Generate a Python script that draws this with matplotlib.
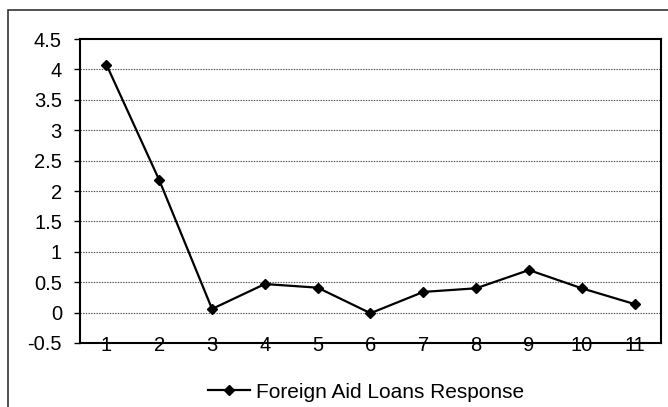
import matplotlib
matplotlib.use("Agg")
import matplotlib.pyplot as plt
from matplotlib.patches import Rectangle
from matplotlib.lines import Line2D

categories = ["1", "2", "3", "4", "5", "6", "7", "8", "9", "10", "11"]
values = [4.08, 2.18, 0.06, 0.47, 0.41, -0.01, 0.34, 0.40, 0.70, 0.40, 0.14]
y_ticks = [-0.5, 0, 0.5, 1, 1.5, 2, 2.5, 3, 3.5, 4, 4.5]
y_tick_labels = ["-0.5", "0", "0.5", "1", "1.5", "2", "2.5", "3", "3.5", "4", "4.5"]
series_name = "Foreign Aid Loans Response"

plt.rcParams['font.family'] = ['Liberation Sans', 'DejaVu Sans']

W, H = 668, 407
fig = plt.figure(figsize=(W / 100, H / 100), dpi=100)
fig.patch.set_facecolor("white")

# outer chart border
fig.patches.append(Rectangle((8 / W, -0.1), 1.2, 1 - 10 / H + 0.1, transform=fig.transFigure,
                             fill=False, edgecolor="#333333", linewidth=1.2))

left, top, right, bottom = 80, 39, 661, 343
ax = fig.add_axes([left / W, 1 - bottom / H, (right - left) / W, (bottom - top) / H])

x = list(range(1, len(categories) + 1))
ax.plot(x, values, color="black", linewidth=1.6, marker="D", markersize=5.5,
        markerfacecolor="black", markeredgecolor="black", zorder=3)

ax.set_xlim(0.5, len(categories) + 0.5)
ax.set_ylim(-0.5, 4.5)
ax.set_yticks(y_ticks)
ax.set_yticklabels(y_tick_labels, fontsize=14.5)
ax.set_xticks(x)
ax.set_xticklabels(categories, fontsize=14.5)

for yv in y_ticks[1:-1]:
    ax.axhline(yv, color="#444444", linewidth=0.8, linestyle=(0, (1.2, 1.2)), zorder=1)

for s in ax.spines.values():
    s.set_color("black")
    s.set_linewidth(1.5)

ax.tick_params(axis="y", direction="out", length=4, width=1, pad=9, colors="black")
ax.tick_params(axis="x", direction="out", length=0, pad=-5, colors="black")
for lbl in ax.get_xticklabels():
    lbl.set_zorder(5)

# legend
handle = Line2D([], [], color="black", linewidth=1.6, marker="D", markersize=5,
                markerfacecolor="black")
leg = fig.legend([handle], [series_name], loc="center", bbox_to_anchor=(366 / W, 1 - 392 / H),
                 frameon=False, fontsize=15, handlelength=2.0, handletextpad=0.3)

fig.savefig("out.png", dpi=100, facecolor="white")
